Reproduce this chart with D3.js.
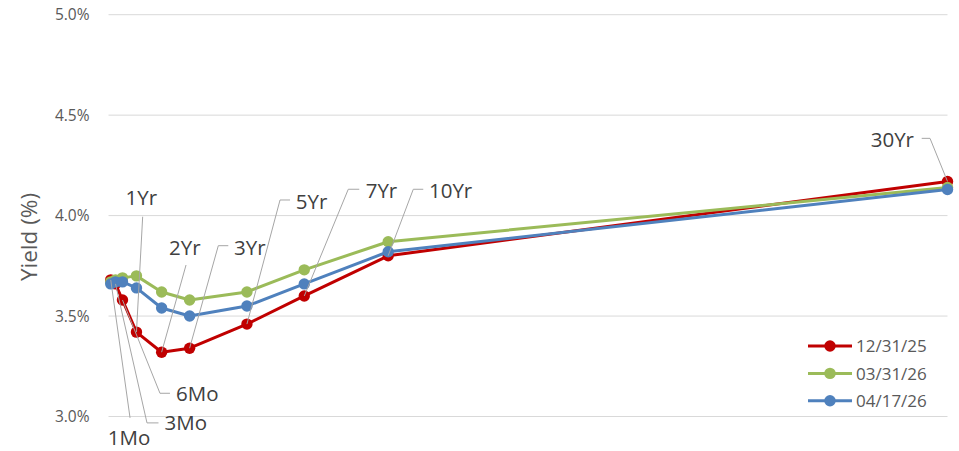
<!DOCTYPE html>
<html>
<head>
<meta charset="utf-8">
<script src="https://cdn.jsdelivr.net/npm/d3@7"></script>
<style>
  html, body { margin: 0; padding: 0; background: #ffffff; }
  svg { display: block; }
  text { font-family: "Open Sans", "Lato", sans-serif; }
</style>
</head>
<body>
<svg id="chart" width="959" height="451"></svg>
<script>
// Treasury yield curve: three dates, maturities on a linear year axis
const maturities = ["1Mo", "3Mo", "6Mo", "1Yr", "2Yr", "3Yr", "5Yr", "7Yr", "10Yr", "30Yr"];
const termYears  = [0.08, 0.25, 0.5, 1, 1.9, 2.9, 4.95, 7, 10, 30];
const seriesNames = ["12/31/25", "03/31/26", "04/17/26"];
const yields_123125 = [3.68, 3.66, 3.58, 3.42, 3.32, 3.34, 3.46, 3.60, 3.80, 4.17];
const yields_033126 = [3.67, 3.68, 3.69, 3.70, 3.62, 3.58, 3.62, 3.73, 3.87, 4.14];
const yields_041726 = [3.66, 3.67, 3.67, 3.64, 3.54, 3.50, 3.55, 3.66, 3.82, 4.13];
const yTicks = [3.0, 3.5, 4.0, 4.5, 5.0];
const yTitle = "Yield (%)";

const seriesColors = ["#C00000", "#9BBB59", "#4F81BD"];
const seriesValues = [yields_123125, yields_033126, yields_041726];

// Data label placement for the 12/31/25 curve (pixel offsets from the marker):
// t = text position, a = text-anchor, lead = leader polyline (from the marker outward)
const labelLayout = {
  "1Mo":  { t: [-3, 165],     a: "start", lead: [[19.3, 138]] },
  "3Mo":  { t: [49, 146],     a: "start", lead: [[31.5, 139], [43, 139]] },
  "6Mo":  { t: [53.5, 101],   a: "start", lead: [[37.5, 93.3], [47.5, 93.3]] },
  "1Yr":  { t: [-11, -127.6], a: "start", lead: [[6.2, -115.4]] },
  "2Yr":  { t: [7.4, -97.2],  a: "start", lead: [[24.4, -87.2]] },
  "3Yr":  { t: [44.4, -93.2], a: "start", lead: [[28.7, -102.5], [38.7, -102.5]] },
  "5Yr":  { t: [48.8, -115.1],a: "start", lead: [[33.1, -124.1], [43.1, -124.1]] },
  "7Yr":  { t: [61.4, -97.7], a: "start", lead: [[44, -106.7], [55, -106.7]] },
  "10Yr": { t: [40.8, -57.5], a: "start", lead: [[25.1, -66.5], [35.1, -66.5]] },
  "30Yr": { t: [-33.5, -34.7],a: "end",   lead: [[-17.5, -43.1], [-25.8, -43.1]] }
};

const svg = d3.select("#chart");
const plot = { left: 108.5, right: 947.5, top: 14.7, bottom: 416.5 };

const x = d3.scaleLinear().domain([0, 30]).range([plot.left, plot.right]);
const y = d3.scaleLinear().domain([3.0, 5.0]).range([plot.bottom, plot.top]);

// Horizontal gridlines
svg.append("g")
  .selectAll("line")
  .data(yTicks)
  .join("line")
  .attr("x1", plot.left).attr("x2", plot.right)
  .attr("y1", d => y(d)).attr("y2", d => y(d))
  .attr("stroke", "#d9d9d9").attr("stroke-width", 1);

// Y axis tick labels (no axis line)
const yAxis = d3.axisLeft(y).tickValues(yTicks).tickFormat(d => d3.format(".1f")(d) + "%").tickSize(0).tickPadding(0);
const yAxisG = svg.append("g").attr("transform", `translate(${plot.left - 19},0)`).call(yAxis);
yAxisG.select(".domain").remove();
yAxisG.selectAll("text")
  .attr("fill", "#595959")
  .style("font-size", "15.5px")
  .style("font-family", "'Open Sans', sans-serif");

// Axis title
svg.append("text")
  .attr("transform", `translate(37,237) rotate(-90)`)
  .attr("text-anchor", "middle")
  .attr("fill", "#595959")
  .style("font-size", "22.5px")
  .text(yTitle);

// Series lines and markers
const line = d3.line().x((d, i) => x(termYears[i])).y(d => y(d));
const seriesG = svg.append("g");
seriesValues.forEach((vals, s) => {
  const g = seriesG.append("g");
  g.append("path")
    .datum(vals)
    .attr("d", line)
    .attr("fill", "none")
    .attr("stroke", seriesColors[s])
    .attr("stroke-width", 3)
    .attr("stroke-linejoin", "round");
  g.selectAll("circle")
    .data(vals)
    .join("circle")
    .attr("cx", (d, i) => x(termYears[i]))
    .attr("cy", d => y(d))
    .attr("r", 5.7)
    .attr("fill", seriesColors[s]);
});

// Maturity labels with leader lines, attached to the 12/31/25 curve
const labelG = svg.append("g");
maturities.forEach((m, i) => {
  const px = x(termYears[i]);
  const py = y(yields_123125[i]);
  const L = labelLayout[m];
  const pts = [[px, py]].concat(L.lead.map(p => [px + p[0], py + p[1]]));
  labelG.append("path")
    .attr("d", d3.line()(pts))
    .attr("fill", "none")
    .attr("stroke", "#a6a6a6")
    .attr("stroke-width", 1);
  labelG.append("text")
    .attr("x", px + L.t[0])
    .attr("y", py + L.t[1])
    .attr("text-anchor", L.a)
    .attr("fill", "#404040")
    .style("font-size", "20.5px")
    .text(m);
});

// Legend
const legend = svg.append("g").attr("transform", "translate(808,346)");
seriesNames.forEach((name, s) => {
  const row = legend.append("g").attr("transform", `translate(0,${s * 27.4})`);
  row.append("line")
    .attr("x1", 0).attr("x2", 44)
    .attr("stroke", seriesColors[s]).attr("stroke-width", 3);
  row.append("circle").attr("cx", 22).attr("r", 5.7).attr("fill", seriesColors[s]);
  row.append("text")
    .attr("x", 48).attr("dy", "0.36em")
    .attr("fill", "#595959")
    .style("font-size", "17px")
    .text(name);
});
</script>
</body>
</html>
